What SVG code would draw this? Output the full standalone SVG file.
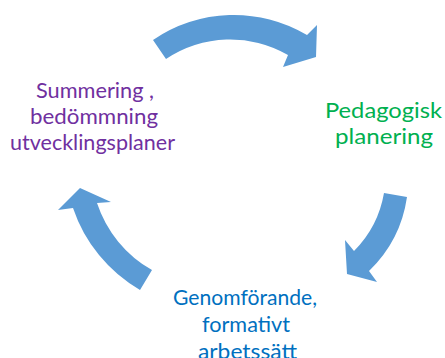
<svg xmlns="http://www.w3.org/2000/svg" width="445" height="358" viewBox="0 0 445 358">
<style>
.lbl{font-family:Lato,"Liberation Sans",sans-serif;font-size:22px;text-anchor:middle;}
.arrow{fill:#5B9BD5;stroke:none;}
</style>
<rect width="445" height="358" fill="#FFFFFF"/>
<g id="connectors">
<path class="arrow" d="M153,40 A143,143 0 0 1 307,35 L317,25 L316,57 L283,67 L288,55 A115,115 0 0 0 166,59 Z"/>
<path class="arrow" d="M384,193 L407,197 A128,128 0 0 1 369,271 L377,282 L347,274 L345,240 L354,251 A108,108 0 0 0 384,193 Z"/>
<path class="arrow" d="M140,290 A150,150 0 0 1 73,208 L58,210 L80,188 L111,202 L97,203 A120,120 0 0 0 152,270 Z"/>
</g>
<g id="node-summering" fill="#7030A0">
<text class="lbl" x="95" y="98" textLength="118" lengthAdjust="spacingAndGlyphs">Summering ,</text>
<text class="lbl" x="94" y="124" textLength="128" lengthAdjust="spacingAndGlyphs">bedömmning</text>
<text class="lbl" x="92.5" y="150" textLength="165" lengthAdjust="spacingAndGlyphs">utvecklingsplaner</text>
</g>
<g id="node-pedagogisk" fill="#00B050">
<text class="lbl" x="383.5" y="118" textLength="117" lengthAdjust="spacingAndGlyphs">Pedagogisk</text>
<text class="lbl" x="384" y="144" textLength="98" lengthAdjust="spacingAndGlyphs">planering</text>
</g>
<g id="node-genomforande" fill="#0070C0">
<text class="lbl" x="245" y="305" textLength="144" lengthAdjust="spacingAndGlyphs">Genomförande,</text>
<text class="lbl" x="246" y="332" textLength="88" lengthAdjust="spacingAndGlyphs">formativt</text>
<text class="lbl" x="247.5" y="359" textLength="99" lengthAdjust="spacingAndGlyphs">arbetssätt</text>
</g>
</svg>
